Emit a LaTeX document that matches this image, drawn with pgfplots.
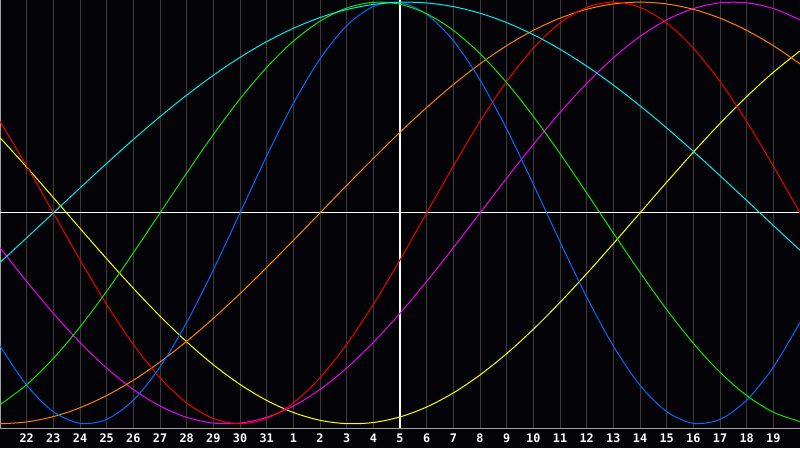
\documentclass[border=0pt]{standalone}
\usepackage{pgfplots}
\pgfplotsset{compat=1.18}
\usepackage{pgfplotstable}
\usepackage{fontspec}
\setmonofont{DejaVu Sans Mono}
\definecolor{bg}{RGB}{4,4,8}
\definecolor{gridc}{RGB}{58,58,58}
\definecolor{framec}{RGB}{160,160,160}
\definecolor{cCyan}{RGB}{0,235,235}
\definecolor{cGreen}{RGB}{20,225,0}
\definecolor{cBlue}{RGB}{0,105,255}
\definecolor{cRed}{RGB}{240,0,0}
\definecolor{cOrange}{RGB}{255,128,0}
\definecolor{cMagenta}{RGB}{240,0,240}
\definecolor{cYellow}{RGB}{255,255,0}

% day offset t (0 = the 21st), cycle values
\pgfplotstableread{
t  blue    green   red     cyan    yellow  magenta orange
0  -0.6311 -0.9096 0.4339  -0.2349 0.3572  -0.1646 -1
1  -0.8170 -0.8146 0.2225  -0.1183 0.2174  -0.3247 -0.9914
2  -0.9423 -0.6901 0       0       0.0730  -0.4759 -0.9659
3  -0.9977 -0.5406 -0.2225 0.1183  -0.0730 -0.6142 -0.9239
4  -0.9791 -0.3717 -0.4339 0.2349  -0.2174 -0.7357 -0.8660
5  -0.8879 -0.1893 -0.6235 0.3482  -0.3572 -0.8372 -0.7934
6  -0.7308 0       -0.7818 0.4566  -0.4894 -0.9158 -0.7071
7  -0.5196 0.1893  -0.9010 0.5586  -0.6112 -0.9694 -0.6088
8  -0.2698 0.3717  -0.9749 0.6529  -0.7199 -0.9966 -0.5
9  0       0.5406  -1      0.7379  -0.8133 -0.9966 -0.3827
10 0.2698  0.6901  -0.9749 0.8125  -0.8893 -0.9694 -0.2588
11 0.5196  0.8146  -0.9010 0.8757  -0.9465 -0.9158 -0.1305
12 0.7308  0.9096  -0.7818 0.9267  -0.9834 -0.8372 0
13 0.8879  0.9718  -0.6235 0.9646  -0.9993 -0.7357 0.1305
14 0.9791  0.9989  -0.4339 0.9890  -0.9940 -0.6142 0.2588
15 0.9977  0.9898  -0.2225 0.9996  -0.9675 -0.4759 0.3827
16 0.9423  0.9450  0       0.9961  -0.9204 -0.3247 0.5
17 0.8170  0.8660  0.2225  0.9786  -0.8536 -0.1646 0.6088
18 0.6311  0.7557  0.4339  0.9473  -0.7685 0       0.7071
19 0.3984  0.6182  0.6235  0.9028  -0.6671 0.1646  0.7934
20 0.1362  0.4582  0.7818  0.8456  -0.5517 0.3247  0.8660
21 -0.1362 0.2817  0.9010  0.7765  -0.4244 0.4759  0.9239
22 -0.3984 0.0951  0.9749  0.6965  -0.2881 0.6142  0.9659
23 -0.6311 -0.0951 1       0.6068  -0.1456 0.7357  0.9914
24 -0.8170 -0.2817 0.9749  0.5085  0       0.8372  1
25 -0.9423 -0.4582 0.9010  0.4031  0.1456  0.9158  0.9914
26 -0.9977 -0.6182 0.7818  0.2920  0.2881  0.9694  0.9659
27 -0.9791 -0.7557 0.6235  0.1769  0.4244  0.9966  0.9239
28 -0.8879 -0.8660 0.4339  0.0592  0.5517  0.9966  0.8660
29 -0.7308 -0.9450 0.2225  -0.0592 0.6671  0.9694  0.7934
30 -0.5196 -0.9898 0       -0.1769 0.7685  0.9158  0.7071
}\cycles

\begin{document}
\begin{tikzpicture}
\fill[bg] (0pt,-20pt) rectangle (800pt,428pt);
\begin{axis}[
  scale only axis,
  width=800pt, height=428pt,
  xmin=0, xmax=30,
  ymin=-1.02, ymax=1.01,
  axis line style={framec, line width=1pt},
  xtick={1,2,...,29},
  xticklabels={22,23,24,25,26,27,28,29,30,31,1,2,3,4,5,6,7,8,9,10,11,12,13,14,15,16,17,18,19},
  ytick=\empty,
  major tick length=0pt,
  xmajorgrids,
  grid style={gridc, line width=1pt},
  xticklabel style={font=\ttfamily\bfseries\fontsize{11.8}{12}\selectfont, text=white, yshift=-2.5pt},
  clip=true,
]
\addplot[white, line width=1pt] coordinates {(0,0) (30,0)};
\addplot[white, line width=1.2pt] coordinates {(15,-1.02) (15,1.01)};
\addplot[cYellow, line width=1pt, smooth] table[x=t, y=yellow] {\cycles};
\addplot[cMagenta, line width=1pt, smooth] table[x=t, y=magenta] {\cycles};
\addplot[cOrange, line width=1pt, smooth] table[x=t, y=orange] {\cycles};
\addplot[cRed, line width=1pt, smooth] table[x=t, y=red] {\cycles};
\addplot[cBlue, line width=1pt, smooth] table[x=t, y=blue] {\cycles};
\addplot[cGreen, line width=1pt, smooth] table[x=t, y=green] {\cycles};
\addplot[cCyan, line width=1pt, smooth] table[x=t, y=cyan] {\cycles};
\end{axis}
\pgfresetboundingbox
\path[use as bounding box] (0pt,-20pt) rectangle (800pt,428pt);
\end{tikzpicture}
\end{document}
